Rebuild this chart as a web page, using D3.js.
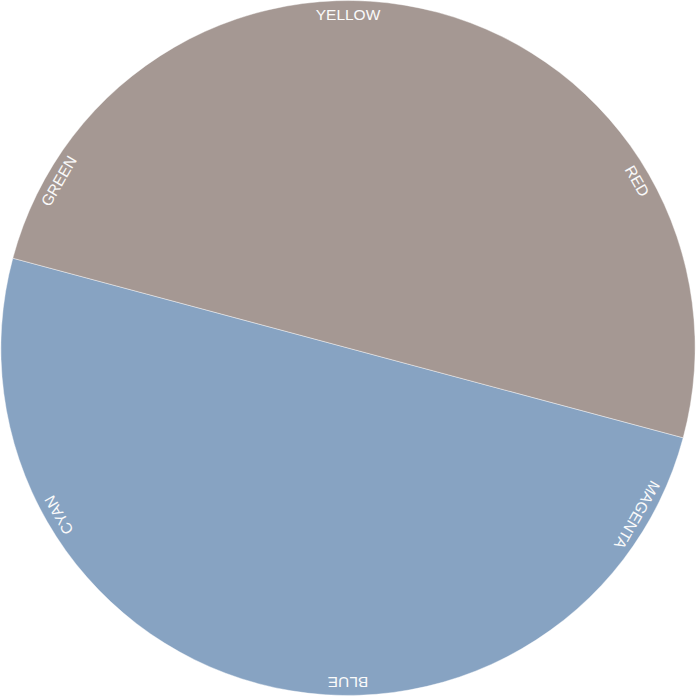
<!DOCTYPE html>
<html><head><meta charset="utf-8">
<script src="https://cdn.jsdelivr.net/npm/d3@7"></script>
<style>html,body{margin:0;padding:0;background:#fff;}</style>
</head><body>
<svg id="chart" width="696" height="696"></svg>
<script>
const sliceNames = ["Blue half", "Warm half"];
const sliceValues = [50, 50];
const sliceColors = ["#87a3c2", "#a59893"];
const hueLabels = ["YELLOW", "RED", "MAGENTA", "BLUE", "CYAN", "GREEN"];
const hueAngles = [0, 60, 120, 180, 240, 300];

const W = 696, H = 696, cx = 348, cy = 348, R = 347;
const svg = d3.select("#chart");
const g = svg.append("g").attr("transform", `translate(${cx},${cy})`);

const startDeg = 105;
const pie = d3.pie().sort(null).value(d => d)
  .startAngle(startDeg * Math.PI / 180)
  .endAngle((startDeg + 360) * Math.PI / 180);
const arc = d3.arc().innerRadius(0).outerRadius(R);

g.selectAll("path.slice").data(pie(sliceValues)).join("path")
  .attr("class", "slice")
  .attr("d", arc)
  .attr("fill", (d, i) => sliceColors[i])
  .attr("stroke", "rgba(255,255,255,0.6)")
  .attr("stroke-width", 0.7);

const angleScale = d3.scaleLinear().domain([0, 360]).range([0, 360]);
g.selectAll("text.lab").data(hueLabels).join("text")
  .attr("class", "lab")
  .attr("transform", (d, i) => `rotate(${angleScale(hueAngles[i])}) translate(0,${-(R - 13)})`)
  .attr("text-anchor", "middle")
  .attr("dominant-baseline", "central")
  .attr("fill", "#fafafa")
  .attr("font-family", "'Liberation Sans', Arial, sans-serif")
  .attr("font-size", 15.5)
  .text(d => d);
</script>
</body></html>
